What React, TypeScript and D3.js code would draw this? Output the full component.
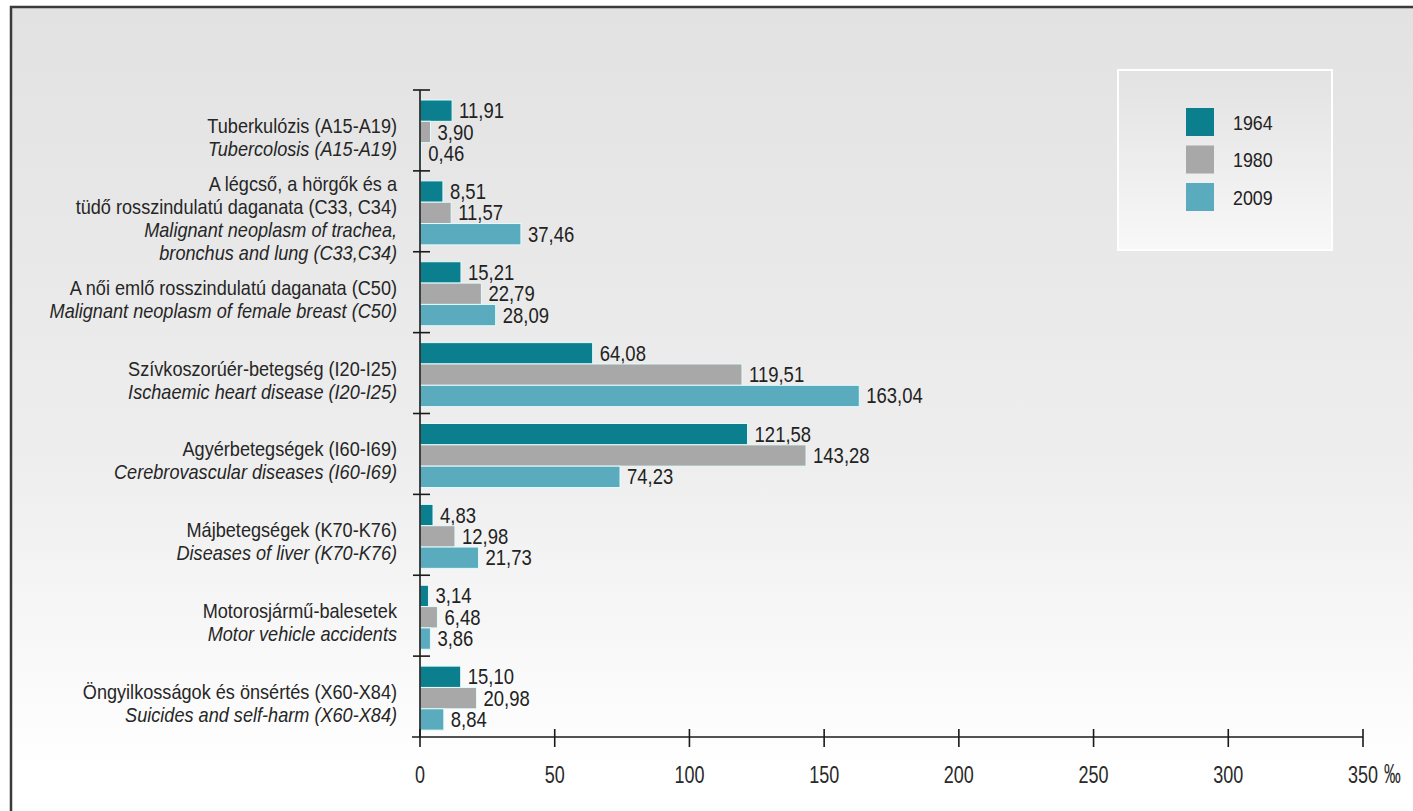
import React from 'react';
import * as d3 from 'd3';

const categoryIds = ['tbc', 'lung', 'breast', 'heart', 'cerebro', 'liver', 'motor', 'suicide'];
const labelsHu: string[][] = [
  ['Tuberkulózis (A15-A19)'],
  ['A légcső, a hörgők és a', 'tüdő rosszindulatú daganata  (C33, C34)'],
  ['A női emlő rosszindulatú daganata (C50)'],
  ['Szívkoszorúér-betegség (I20-I25)'],
  ['Agyérbetegségek (I60-I69)'],
  ['Májbetegségek (K70-K76)'],
  ['Motorosjármű-balesetek'],
  ['Öngyilkosságok és önsértés (X60-X84)'],
];
const labelsEn: string[][] = [
  ['Tubercolosis (A15-A19)'],
  ['Malignant neoplasm of trachea,', 'bronchus and lung (C33,C34)'],
  ['Malignant neoplasm of female breast (C50)'],
  ['Ischaemic heart disease (I20-I25)'],
  ['Cerebrovascular diseases (I60-I69)'],
  ['Diseases of liver (K70-K76)'],
  ['Motor vehicle accidents'],
  ['Suicides and self-harm (X60-X84)'],
];
const seriesNames = ['1964', '1980', '2009'];
const values1964 = [11.91, 8.51, 15.21, 64.08, 121.58, 4.83, 3.14, 15.1];
const values1980 = [3.9, 11.57, 22.79, 119.51, 143.28, 12.98, 6.48, 20.98];
const values2009 = [0.46, 37.46, 28.09, 163.04, 74.23, 21.73, 3.86, 8.84];
const xTicks = [0, 50, 100, 150, 200, 250, 300, 350];
const unitLabel = '‰';
const seriesColors = ['#0b7f8d', '#a8a8a8', '#5aabbd'];

const FONT = "'Liberation Sans', Arial, Helvetica, sans-serif";
const fmt = (v: number) => v.toFixed(2).replace('.', ',');

export default function App() {
  const W = 1413;
  const H = 811;
  const x = d3.scaleLinear().domain([0, 350]).range([420, 1363]);
  const y = d3.scaleBand<string>().domain(categoryIds).range([90, 737]).padding(0);
  const inner = d3.scaleBand<string>().domain(seriesNames).range([10, 74]).padding(0);
  const allSeries = [values1964, values1980, values2009];
  const axisY = 737;
  const lineH = 23;

  return (
    <div style={{ position: 'fixed', left: 0, top: 0, width: W, height: H, overflow: 'hidden' }}>
      <svg width={W} height={H} style={{ display: 'block', fontFamily: FONT }}>
        <defs>
          <linearGradient id="bg" x1="0" y1="0" x2="0" y2="1">
            <stop offset="0" stopColor="#e2e2e2" />
            <stop offset="0.55" stopColor="#eeeeee" />
            <stop offset="0.92" stopColor="#ffffff" />
            <stop offset="1" stopColor="#ffffff" />
          </linearGradient>
          <linearGradient id="lg" x1="0" y1="0" x2="0" y2="1">
            <stop offset="0" stopColor="#e2e2e2" />
            <stop offset="1" stopColor="#f8f8f8" />
          </linearGradient>
        </defs>
        <rect x={0} y={0} width={W} height={H} fill="#ffffff" />
        <rect x={11} y={7} width={W + 20} height={H + 20} fill="url(#bg)" stroke="#3a3a3a" strokeWidth={2.5} />

        {/* legend box */}
        <rect x={1118} y={70} width={214} height={180} fill="url(#lg)" stroke="#ffffff" strokeWidth={2} />
        {seriesNames.map((s, i) => (
          <g key={s}>
            <rect x={1186} y={108 + i * 37.5} width={28} height={28} fill={seriesColors[i]} />
            <text transform={`translate(1233,${122 + i * 37.5 + 7.5}) scale(0.85,1)`} fontSize={21} fill="#222">
              {s}
            </text>
          </g>
        ))}

        {/* bars */}
        {categoryIds.map((c, ci) => (
          <g key={c}>
            {allSeries.map((vals, si) => {
              const by = (y(c) as number) + (inner(seriesNames[si]) as number);
              const bh = inner.bandwidth();
              const v = vals[ci];
              return (
                <g key={si}>
                  <rect
                    x={x(0)}
                    y={by}
                    width={x(v) - x(0)}
                    height={bh}
                    fill={seriesColors[si]}
                    stroke="#e4fbfd"
                    strokeWidth={1}
                  />
                  <text
                    transform={`translate(${x(v) + 7},${by + bh / 2 + 7.5}) scale(0.86,1)`}
                    fontSize={21.5}
                    fill="#222"
                  >
                    {fmt(v)}
                  </text>
                </g>
              );
            })}
          </g>
        ))}

        {/* category labels */}
        {categoryIds.map((c, ci) => {
          const lines = [
            ...labelsHu[ci].map((t) => ({ t, it: false })),
            ...labelsEn[ci].map((t) => ({ t, it: true })),
          ];
          const center = (y(c) as number) + y.bandwidth() / 2 + 7;
          const start = center - ((lines.length - 1) * lineH) / 2;
          return (
            <g key={c}>
              {lines.map((l, li) => (
                <text
                  key={li}
                  transform={`translate(397,${start + li * lineH + 7}) scale(0.93,1)`}
                  fontSize={19.5}
                  textAnchor="end"
                  fontStyle={l.it ? 'italic' : 'normal'}
                  fill="#262626"
                >
                  {l.t}
                </text>
              ))}
            </g>
          );
        })}

        {/* y axis */}
        <line x1={x(0)} x2={x(0)} y1={90} y2={axisY} stroke="#1a1a1a" strokeWidth={1.6} />
        {categoryIds.map((c) => (
          <line key={c} x1={413} x2={430} y1={y(c) as number} y2={y(c) as number} stroke="#1a1a1a" strokeWidth={1.6} />
        ))}

        {/* x axis */}
        <line x1={412} x2={x(350)} y1={axisY} y2={axisY} stroke="#1a1a1a" strokeWidth={1.6} />
        {xTicks.map((t) => (
          <g key={t}>
            <line x1={x(t)} x2={x(t)} y1={729} y2={747} stroke="#1a1a1a" strokeWidth={1.6} />
            <text
              transform={`translate(${x(t)},${783}) scale(0.75,1)`}
              fontSize={24}
              textAnchor="middle"
              fill="#2a2a2a"
            >
              {t}
            </text>
          </g>
        ))}
        <text transform={`translate(${x(350) + 21},${783}) scale(0.62,1)`} fontSize={27} fill="#2a2a2a">
          {unitLabel}
        </text>
      </svg>
    </div>
  );
}
